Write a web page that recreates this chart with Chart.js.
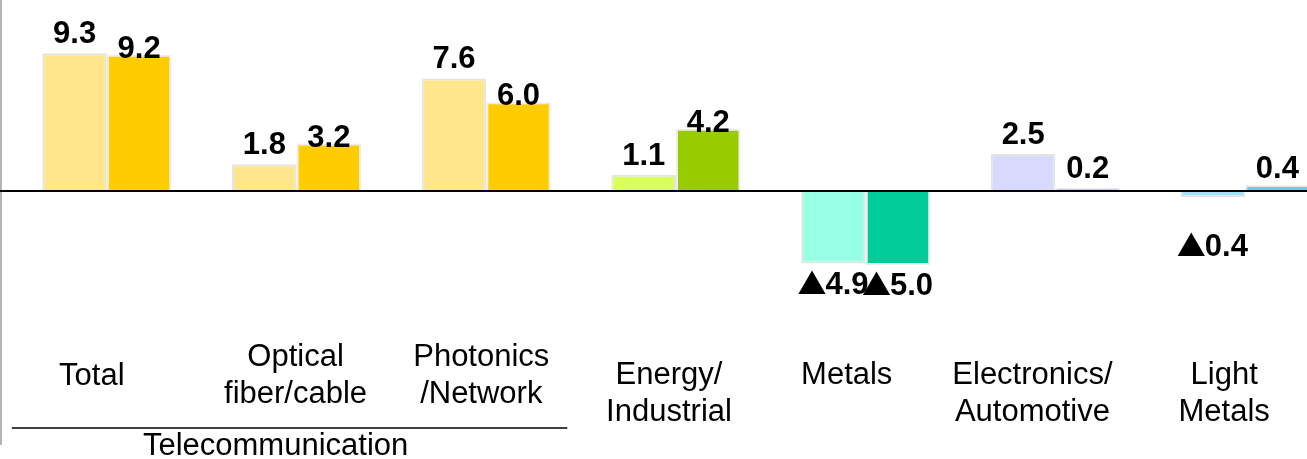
<!DOCTYPE html>
<html>
<head>
<meta charset="utf-8">
<script src="https://cdn.jsdelivr.net/npm/chart.js@4/dist/chart.umd.min.js"></script>
<style>
  html, body { margin: 0; padding: 0; background: #fff; overflow: hidden; }
  #wrap { width: 1341px; height: 459px; }
  canvas { display: block; }
</style>
</head>
<body>
<div id="wrap"><canvas id="segmentChart" width="1341" height="459"></canvas></div>
<script>
// Segment results, previous vs current (negative values shown with ▲)
const categories = [
  ['Total'],
  ['Optical', 'fiber/cable'],
  ['Photonics', '/Network'],
  ['Energy/', 'Industrial'],
  ['Metals'],
  ['Electronics/', 'Automotive'],
  ['Light', 'Metals']
];
const previousValues = [9.3, 1.8, 7.6, 1.1, -4.9, 2.5, -0.4];
const currentValues = [9.2, 3.2, 6.0, 4.2, -5.0, 0.2, 0.4];
const groupLabel = 'Telecommunication';
const groupMembers = [0, 1, 2];

const lightColors = ['#ffe68a', '#ffe68a', '#ffe68a', '#d9ff5a', '#96ffe4', '#d9d9ff', '#a3e2ff'];
const darkColors = ['#ffcc00', '#ffcc00', '#ffcc00', '#99cc00', '#00cc99', '#9999ff', '#66ccff'];

const FONT = "'Liberation Sans', Arial, sans-serif";
const TRI_FONT = "'Noto Sans CJK JP', 'DejaVu Sans', sans-serif";
// horizontal nudge of each category caption from its slot centre
const captionShift = [-15, -1, -5, -7, -19, -23, -21];

// value text; negatives get a full-width ▲ instead of a minus sign
function drawValue(ctx, v, cx, baselineY) {
  const num = Math.abs(v).toFixed(1);
  const numFont = 'bold 31px ' + FONT;
  ctx.textAlign = 'left';
  ctx.textBaseline = 'alphabetic';
  if (v >= 0) {
    ctx.font = numFont;
    const w = ctx.measureText(num).width;
    ctx.fillText(num, cx - w / 2, baselineY);
    return;
  }
  const tri = '\u25B2';
  ctx.font = '29px ' + TRI_FONT;
  const tw = ctx.measureText(tri).width;
  ctx.font = numFont;
  const nw = ctx.measureText(num).width;
  const x0 = cx - (tw + nw) / 2;
  ctx.font = '29px ' + TRI_FONT;
  ctx.fillText(tri, x0, baselineY + 1);
  ctx.font = numFont;
  ctx.fillText(num, x0 + tw - 1, baselineY);
}

// zero line, left rule, value labels and category labels
const decorations = {
  id: 'decorations',
  beforeDatasetsDraw(chart) {
    const ctx = chart.ctx;
    ctx.save();
    ctx.strokeStyle = '#b4b4b4';
    ctx.lineWidth = 2;
    ctx.beginPath();
    ctx.moveTo(1, 0);
    ctx.lineTo(1, 445);
    ctx.stroke();
    ctx.restore();
  },
  afterDatasetsDraw(chart) {
    const ctx = chart.ctx;
    const y0 = chart.scales.y.getPixelForValue(0);
    const xs = chart.scales.x;

    ctx.save();
    ctx.strokeStyle = '#000';
    ctx.lineWidth = 2;
    ctx.beginPath();
    ctx.moveTo(0, y0);
    ctx.lineTo(chart.width, y0);
    ctx.stroke();

    // value labels
    ctx.fillStyle = '#000';
    chart.data.datasets.forEach((ds, di) => {
      const meta = chart.getDatasetMeta(di);
      meta.data.forEach((bar, i) => {
        const v = ds.data[i];
        if (v >= 0) {
          const off = di === 0 ? -10 : 3;
          drawValue(ctx, v, bar.x, Math.min(bar.y + off, y0 - 13));
        } else {
          const top = Math.max(bar.y + 7, y0 + 42);
          drawValue(ctx, v, bar.x, top + 23);
        }
      });
    });

    // category labels
    ctx.font = '31px ' + FONT;
    ctx.textAlign = 'center';
    ctx.textBaseline = 'middle';
    const lineH = 37;
    categories.forEach((lines, i) => {
      const x = xs.getPixelForValue(i) + captionShift[i];
      let first;
      if (groupMembers.includes(i)) {
        first = 376 - (lines.length - 1) * lineH / 2;
      } else {
        first = 375;
      }
      lines.forEach((t, k) => ctx.fillText(t, x, first + k * lineH));
    });

    // group bracket
    const gx0 = xs.getPixelForValue(groupMembers[0]) - 95;
    const gx1 = xs.getPixelForValue(groupMembers[groupMembers.length - 1]) + 81;
    ctx.lineWidth = 1.5;
    ctx.beginPath();
    ctx.moveTo(gx0, 428);
    ctx.lineTo(gx1, 428);
    ctx.stroke();
    ctx.fillText(groupLabel, (gx0 + gx1) / 2 - 14, 446);
    ctx.restore();
  }
};

new Chart(document.getElementById('segmentChart').getContext('2d'), {
  type: 'bar',
  data: {
    labels: categories,
    datasets: [
      {
        label: 'Previous',
        data: previousValues,
        backgroundColor: lightColors,
        borderColor: '#e4e4e4',
        borderWidth: 2,
        categoryPercentage: 0.68,
        barPercentage: 1
      },
      {
        label: 'Current',
        data: currentValues,
        backgroundColor: darkColors,
        borderColor: '#ececec',
        borderWidth: 2,
        categoryPercentage: 0.68,
        barPercentage: 1
      }
    ]
  },
  options: {
    responsive: false,
    animation: false,
    layout: { padding: { left: 12, right: 1, top: 0, bottom: 0 } },
    plugins: { legend: { display: false }, tooltip: { enabled: false } },
    scales: {
      x: { display: false },
      y: { display: false, min: -18.1, max: 12.9 }
    }
  },
  plugins: [decorations]
});
</script>
</body>
</html>
